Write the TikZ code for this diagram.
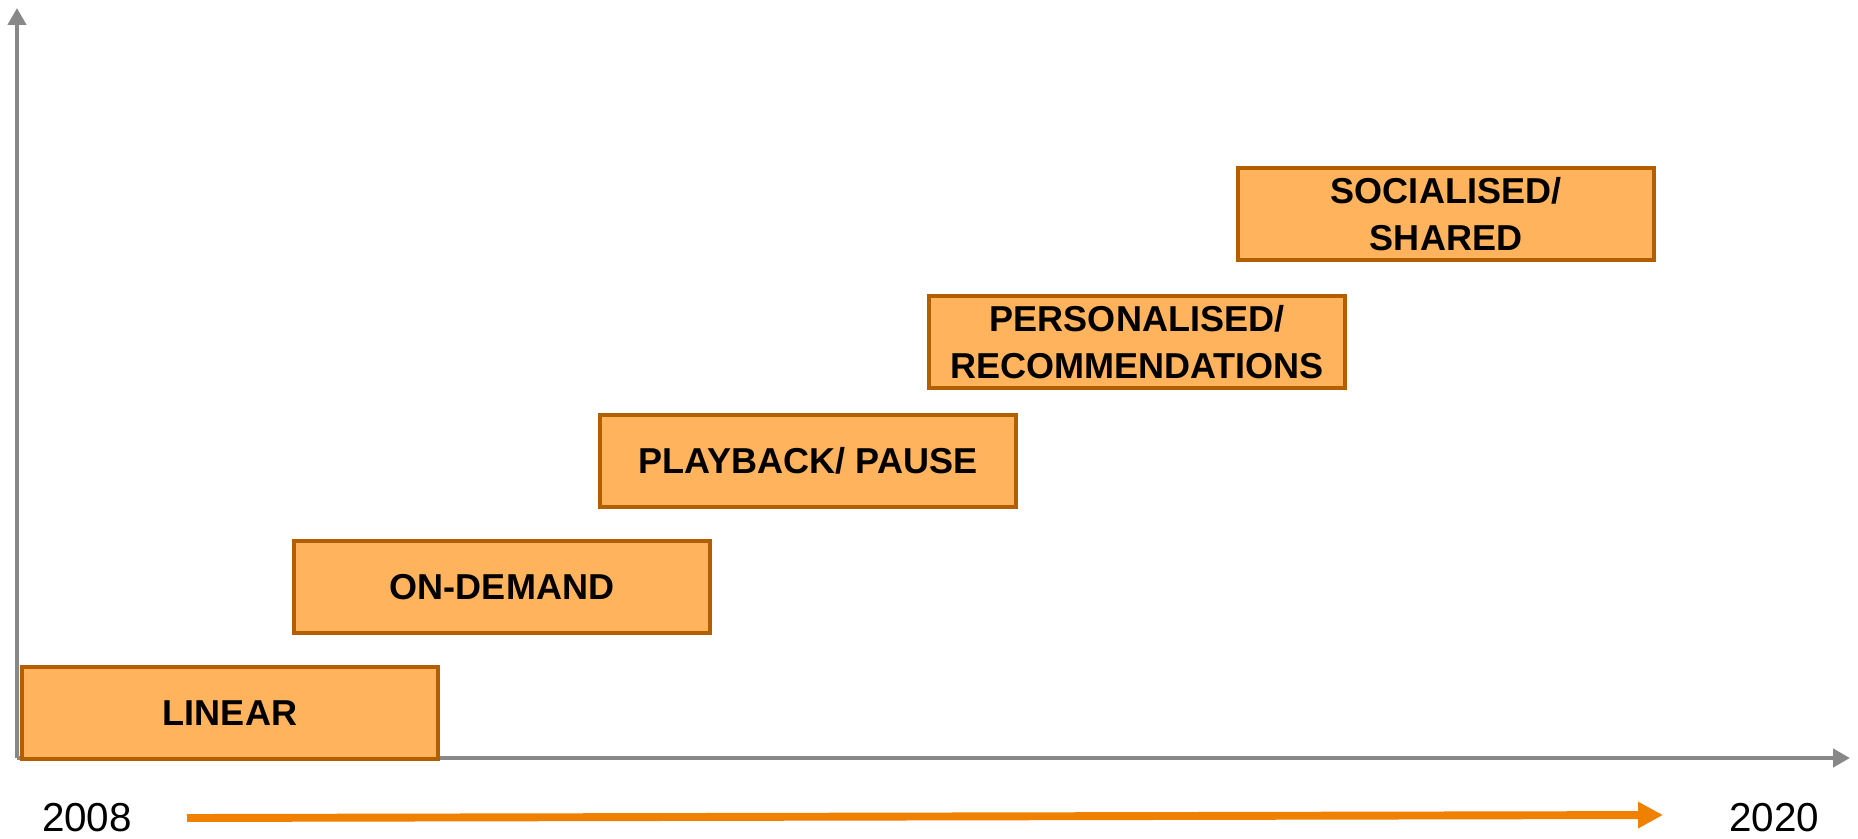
\documentclass[tikz,border=0pt]{standalone}
\usepackage{fontspec}
\setmainfont{Liberation Sans}
\usetikzlibrary{positioning, arrows.meta}
\definecolor{stagefill}{RGB}{255, 179, 92}
\definecolor{stageline}{RGB}{179, 95, 0}
\definecolor{axisgray}{RGB}{136, 136, 136}
\definecolor{timeorange}{RGB}{240, 128, 0}

\begin{document}
\begin{tikzpicture}[
                stagebox/.style={draw=stageline, fill=stagefill,
                    line width=2.6pt, minimum width=8.32cm,
                    minimum height=1.84cm, align=center,
                    font=\fontsize{20.5}{26.5}\selectfont\bfseries},
                yearlbl/.style={font=\fontsize{23}{27}\selectfont},
                axis/.style={-{Triangle[length=0.34cm, width=0.36cm]},
                    line width=2.8pt, axisgray},
                timearr/.style={-{Triangle[length=0.5cm, width=0.5cm]},
                    line width=4.5pt, timeorange}
            ]
                \useasboundingbox (0, 0) rectangle (37.16, 16.76);

                % axes
                \coordinate (origin) at (0.34, 1.60);
                \coordinate (ytip) at (0.34, 16.60);
                \coordinate (xtip) at (37.0, 1.60);
                \draw[axis] (origin) -- (ytip);
                \draw[axis] (origin) -- (xtip);

                % stages
                \node[stagebox] (linear) at (4.60, 2.50) {LINEAR};
                \node[stagebox] (demand) at (10.04, 5.02) {ON-DEMAND};
                \node[stagebox] (playback) at (16.16, 7.54) {PLAYBACK/ PAUSE};
                \node[stagebox] (personal) at (22.74, 9.92)
                    {PERSONALISED/\\RECOMMENDATIONS};
                \node[stagebox] (social) at (28.92, 12.48)
                    {SOCIALISED/\\SHARED};

                % time line
                \node[yearlbl] (start) at (1.74, 0.40) {2008};
                \node[yearlbl] (finish) at (35.48, 0.40) {2020};
                \coordinate (tstart) at (3.74, 0.40);
                \coordinate (tend) at (33.26, 0.46);
                \draw[timearr] (tstart) -- (tend);

            \end{tikzpicture}
\end{document}
